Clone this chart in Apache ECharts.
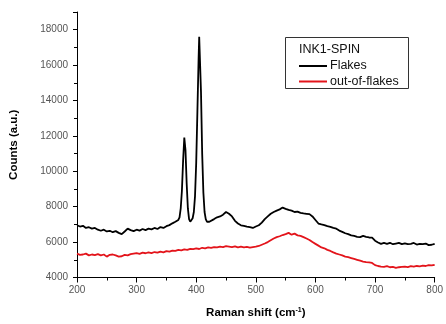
<!DOCTYPE html>
<html>
<head>
<meta charset="utf-8">
<script src="https://cdn.jsdelivr.net/npm/echarts@6/dist/echarts.min.js"></script>
<style>
  html, body { margin: 0; padding: 0; background: #fff; }
  #chart { width: 446px; height: 324px; }
</style>
</head>
<body>
<div id="chart"></div>
<script>
// Raman spectra, INK1-SPIN sample
const flakesShift = [
  200, 205, 210, 215, 220, 225, 230, 235, 240, 245, 250, 255, 260, 265, 270, 275,
  280, 285, 290, 295, 300, 305, 310, 315, 320, 325, 330, 335, 340, 345, 350, 355,
  360, 365, 370, 372, 374, 376, 378, 380, 382, 384, 386, 388, 390, 392, 394, 396,
  398, 400, 402, 404, 405, 406, 408, 410, 412, 414, 416, 418, 420, 422, 425, 430,
  435, 440, 445, 450, 455, 460, 465, 470, 475, 480, 485, 490, 495, 500, 505, 510,
  515, 520, 525, 530, 535, 540, 545, 550, 555, 560, 565, 570, 575, 580, 585, 590,
  595, 600, 605, 610, 615, 620, 625, 630, 635, 640, 645, 650, 655, 660, 665, 670,
  675, 680, 685, 690, 695, 700, 705, 710, 715, 720, 725, 730, 735, 740, 745, 750,
  755, 760, 765, 770, 775, 780, 785, 790, 795, 800
];
const flakesCounts = [
  6950, 6880, 6920, 6800, 6840, 6760, 6800, 6700, 6640, 6700, 6600, 6640, 6560, 6620, 6520, 6450,
  6600, 6760, 6680, 6620, 6700, 6650, 6740, 6680, 6760, 6720, 6800, 6740, 6850, 6800, 6900, 6960,
  7060, 7150, 7250, 7400, 7900, 8900, 10600, 11900, 11200, 9300, 7900, 7300, 7150, 7200, 7350, 7700,
  8600, 10500, 13400, 16400, 17600, 17500, 14500, 11000, 8800, 7700, 7300, 7150, 7100, 7150, 7250, 7300,
  7400, 7450, 7550, 7700, 7600, 7450, 7200, 7050, 6950, 6920, 6880, 6850, 6800, 6880, 6950, 7100,
  7300, 7450, 7600, 7700, 7780, 7850, 7950, 7880, 7820, 7780, 7700, 7720, 7650, 7620, 7600, 7580,
  7450, 7250, 7050, 7000, 6960, 6900, 6860, 6800, 6760, 6650, 6580, 6500, 6450, 6380, 6350, 6300,
  6280, 6350, 6300, 6260, 6250, 6080, 5980, 5900, 5950, 5900, 5960, 5880, 5920, 5960, 5890, 5930,
  5880, 5900, 5950, 5860, 5900, 5880, 5920, 5830, 5850, 5900
];

const outShift = [];
for (let s = 200; s <= 800; s += 5) outShift.push(s);
const outCounts = [
  5350, 5280, 5300, 5350, 5250, 5300, 5270, 5320, 5250, 5300, 5180, 5280, 5300, 5250, 5180, 5200,
  5280, 5250, 5320, 5350, 5380, 5340, 5400, 5370, 5420, 5380, 5440, 5400, 5460, 5420, 5490, 5460,
  5520, 5500, 5560, 5530, 5590, 5560, 5620, 5600, 5640, 5610, 5680, 5650, 5700, 5670, 5720, 5700,
  5740, 5720, 5770, 5750, 5720, 5760, 5700, 5740, 5700, 5730, 5690, 5720, 5740, 5780, 5850, 5920,
  6000, 6100, 6200, 6280, 6330, 6400, 6450, 6520, 6420, 6480, 6380, 6350, 6280, 6200, 6120, 6000,
  5900, 5800, 5700, 5650, 5560, 5500, 5420, 5350, 5300, 5250, 5180, 5150, 5100, 5050, 5000, 4950,
  4900, 4870, 4850, 4820, 4700, 4650, 4620, 4600, 4640, 4580, 4600, 4550, 4580, 4600, 4620, 4590,
  4640, 4610, 4650, 4630, 4670, 4650, 4700, 4680, 4720
];

const seriesNames = ['Flakes', 'out-of-flakes'];
const legendTitle = 'INK1-SPIN';

const pairs = (xs, ys) => xs.map((x, i) => [x, ys[i]]);
const font = '"Liberation Sans", Arial, sans-serif';

const chart = echarts.init(document.getElementById('chart'));

const option = {
  animation: false,
  backgroundColor: '#fff',
  textStyle: { fontFamily: font },
  grid: { left: 77, right: 8, top: 12, bottom: 43 },
  title: {
    text: legendTitle,
    left: 299,
    top: 43,
    padding: 0,
    textStyle: { fontFamily: font, fontSize: 12.5, fontWeight: 'normal', color: '#111' }
  },
  legend: {
    orient: 'vertical',
    left: 299,
    top: 59,
    padding: 0,
    icon: 'rect',
    itemWidth: 28,
    itemHeight: 2,
    itemGap: 1.5,
    data: seriesNames,
    textStyle: { fontFamily: font, fontSize: 12.5, lineHeight: 14, color: '#111', padding: [0, 0, 0, -2] }
  },
  graphic: [{
    type: 'rect',
    z: 0,
    shape: { x: 285.5, y: 37.5, width: 123, height: 51 },
    style: { fill: '#fff', stroke: '#333', lineWidth: 1 }
  }],
  xAxis: {
    type: 'value',
    min: 200,
    max: 800,
    interval: 100,
    name: 'Raman shift (cm{sup|-1})',
    nameLocation: 'middle',
    nameGap: 29,
    nameTextStyle: {
      fontFamily: font, fontSize: 11.5, fontWeight: 'bold', color: '#000',
      rich: { sup: { fontFamily: font, fontSize: 7, fontWeight: 'bold', color: '#000', verticalAlign: 'top', padding: [0, 0, 6, 0] } }
    },
    axisLine: { lineStyle: { color: '#000', width: 1 } },
    axisTick: { show: true, inside: false, length: 5, lineStyle: { color: '#000' } },
    minorTick: { show: true, splitNumber: 2, length: 3, lineStyle: { color: '#000' } },
    splitLine: { show: false },
    axisLabel: { fontFamily: font, fontSize: 10, color: '#555', margin: 8 }
  },
  yAxis: {
    type: 'value',
    min: 4000,
    max: 19000,
    interval: 2000,
    name: 'Counts (a.u.)',
    nameLocation: 'middle',
    nameGap: 57,
    nameTextStyle: { fontFamily: font, fontSize: 11.5, fontWeight: 'bold', color: '#000' },
    axisLine: { show: true, lineStyle: { color: '#000', width: 1 } },
    axisTick: { show: true, inside: false, length: 4, lineStyle: { color: '#000' } },
    minorTick: { show: true, splitNumber: 2, length: 3, lineStyle: { color: '#000' } },
    splitLine: { show: false },
    axisLabel: {
      fontFamily: font, fontSize: 10, color: '#555', margin: 9,
      formatter: v => (v > 18000 ? '' : String(v))
    }
  },
  series: [
    {
      name: seriesNames[0],
      type: 'line',
      symbol: 'none',
      z: 3,
      data: pairs(flakesShift, flakesCounts),
      lineStyle: { color: '#000', width: 1.8 },
      itemStyle: { color: '#000' }
    },
    {
      name: seriesNames[1],
      type: 'line',
      symbol: 'none',
      z: 3,
      data: pairs(outShift, outCounts),
      lineStyle: { color: '#e3141b', width: 1.8 },
      itemStyle: { color: '#e3141b' }
    }
  ]
};

chart.setOption(option);
</script>
</body>
</html>
